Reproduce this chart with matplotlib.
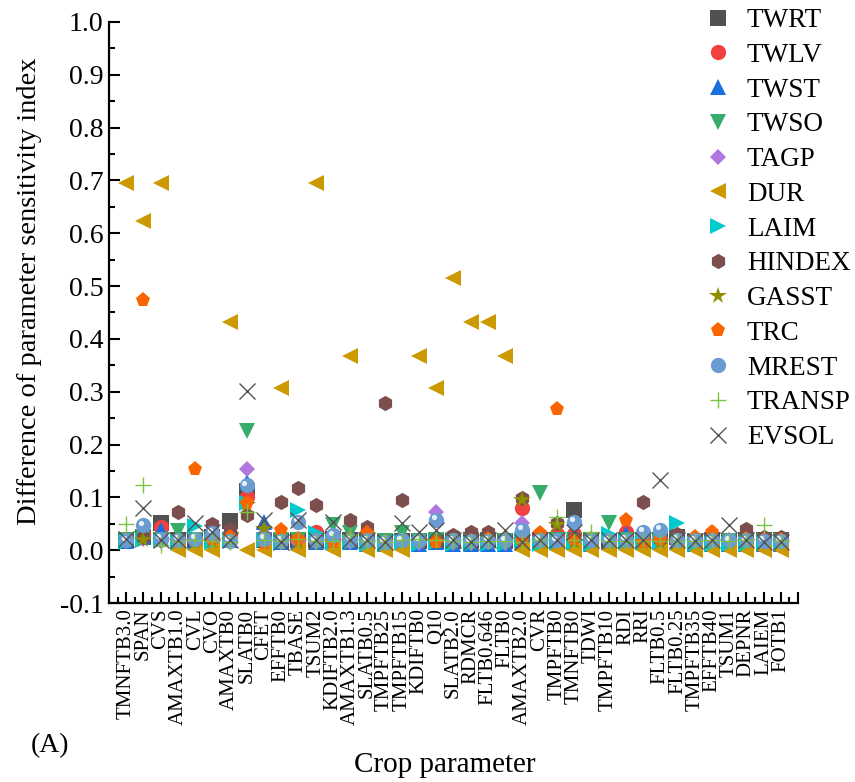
import matplotlib
matplotlib.use("Agg")
import matplotlib.pyplot as plt
from matplotlib.ticker import MultipleLocator
from matplotlib.transforms import offset_copy

plt.rcParams['font.family'] = ['Liberation Serif', 'DejaVu Serif']

params = ["TMNFTB3.0", "SPAN", "CVS", "AMAXTB1.0", "CVL", "CVO", "AMAXTB0", "SLATB0",
          "CFET", "EFFTB0", "TBASE", "TSUM2", "KDIFTB2.0", "AMAXTB1.3", "SLATB0.5",
          "TMPFTB25", "TMPFTB15", "KDIFTB0", "Q10", "SLATB2.0", "RDMCR", "FLTB0.646",
          "FLTB0", "AMAXTB2.0", "CVR", "TMPFTB0", "TMNFTB0", "TDWI", "TMPFTB10", "RDI",
          "RRI", "FLTB0.5", "FLTB0.25", "TMPFTB35", "EFFTB40", "TSUM1", "DEPNR", "LAIEM", "FOTB1"]

twrt = [0.020, 0.025, 0.052, 0.020, 0.020, 0.025, 0.056, 0.112, 0.020, 0.018, 0.020, 0.020, 0.022,
        0.020, 0.018, 0.015, 0.018, 0.017, 0.018, 0.017, 0.020, 0.020, 0.018, 0.020, 0.020, 0.020,
        0.076, 0.020, 0.018, 0.020, 0.020, 0.020, 0.025, 0.018, 0.020, 0.018, 0.020, 0.020, 0.020]
twlv = [0.022, 0.030, 0.044, 0.020, 0.020, 0.025, 0.030, 0.100, 0.020, 0.022, 0.020, 0.035, 0.022,
        0.020, 0.020, 0.015, 0.020, 0.018, 0.020, 0.017, 0.018, 0.020, 0.018, 0.080, 0.025, 0.030,
        0.030, 0.020, 0.020, 0.035, 0.020, 0.022, 0.020, 0.018, 0.020, 0.018, 0.020, 0.018, 0.020]
twst = [0.018, 0.025, 0.038, 0.015, 0.015, 0.020, 0.020, 0.130, 0.054, 0.015, 0.015, 0.015, 0.015,
        0.015, 0.012, 0.012, 0.015, 0.012, 0.015, 0.012, 0.012, 0.012, 0.012, 0.015, 0.015, 0.015,
        0.015, 0.012, 0.015, 0.030, 0.015, 0.015, 0.015, 0.012, 0.012, 0.012, 0.012, 0.012, 0.012]
twso = [0.020, 0.025, 0.020, 0.037, 0.020, 0.020, 0.020, 0.226, 0.020, 0.020, 0.020, 0.020, 0.047,
        0.032, 0.020, 0.018, 0.032, 0.018, 0.020, 0.018, 0.018, 0.020, 0.018, 0.020, 0.108, 0.020,
        0.020, 0.018, 0.051, 0.020, 0.020, 0.020, 0.020, 0.018, 0.018, 0.018, 0.018, 0.018, 0.018]
tagp = [0.018, 0.022, 0.018, 0.015, 0.015, 0.018, 0.015, 0.153, 0.030, 0.015, 0.015, 0.015, 0.015,
        0.015, 0.015, 0.013, 0.015, 0.013, 0.072, 0.013, 0.013, 0.015, 0.013, 0.052, 0.015, 0.015,
        0.015, 0.013, 0.015, 0.015, 0.015, 0.015, 0.015, 0.013, 0.013, 0.013, 0.013, 0.013, 0.013]
dur = [0.695, 0.623, 0.695, 0.0, 0.0, 0.0, 0.432, 0.0, 0.0, 0.307, 0.0, 0.695, 0.0,
       0.367, 0.0, 0.0, 0.0, 0.367, 0.307, 0.515, 0.432, 0.432, 0.367, 0.0, 0.0, 0.0,
       0.0, 0.0, 0.0, 0.0, 0.0, 0.0, 0.0, 0.0, 0.0, 0.0, 0.0, 0.0, 0.0]
laim = [0.015, 0.020, 0.020, 0.015, 0.045, 0.015, 0.020, 0.090, 0.020, 0.015, 0.076, 0.032, 0.015,
        0.015, 0.012, 0.012, 0.015, 0.012, 0.015, 0.012, 0.012, 0.012, 0.012, 0.020, 0.012, 0.015,
        0.015, 0.012, 0.030, 0.015, 0.015, 0.015, 0.051, 0.012, 0.012, 0.012, 0.012, 0.015, 0.015]
hindex = [0.020, 0.025, 0.020, 0.073, 0.020, 0.050, 0.040, 0.066, 0.025, 0.092, 0.117, 0.085, 0.025,
          0.057, 0.044, 0.279, 0.095, 0.020, 0.018, 0.028, 0.035, 0.035, 0.020, 0.098, 0.025, 0.051,
          0.025, 0.020, 0.020, 0.020, 0.092, 0.022, 0.030, 0.020, 0.025, 0.020, 0.040, 0.025, 0.025]
gasst = [0.018, 0.020, 0.018, 0.015, 0.015, 0.018, 0.018, 0.085, 0.041, 0.015, 0.015, 0.015, 0.015,
         0.015, 0.015, 0.015, 0.015, 0.015, 0.015, 0.015, 0.015, 0.015, 0.015, 0.095, 0.015, 0.047,
         0.015, 0.015, 0.015, 0.015, 0.015, 0.015, 0.015, 0.015, 0.015, 0.015, 0.015, 0.015, 0.015]
trc = [0.020, 0.473, 0.020, 0.015, 0.153, 0.022, 0.025, 0.089, 0.013, 0.038, 0.022, 0.020, 0.016,
       0.022, 0.032, 0.016, 0.018, 0.018, 0.016, 0.018, 0.018, 0.022, 0.022, 0.020, 0.032, 0.267,
       0.022, 0.022, 0.018, 0.057, 0.015, 0.022, 0.018, 0.025, 0.035, 0.020, 0.022, 0.020, 0.020]
mrest = [0.019, 0.047, 0.022, 0.020, 0.022, 0.033, 0.018, 0.123, 0.022, 0.018, 0.054, 0.019, 0.028,
         0.020, 0.019, 0.016, 0.019, 0.019, 0.058, 0.019, 0.017, 0.018, 0.019, 0.038, 0.020, 0.019,
         0.054, 0.019, 0.019, 0.020, 0.035, 0.038, 0.020, 0.019, 0.019, 0.019, 0.019, 0.018, 0.018]
transp = [0.050, 0.124, 0.010, 0.018, 0.020, 0.018, 0.016, 0.073, 0.020, 0.018, 0.022, 0.018, 0.018,
          0.028, 0.018, 0.016, 0.020, 0.022, 0.020, 0.018, 0.016, 0.018, 0.018, 0.016, 0.020, 0.063,
          0.020, 0.035, 0.018, 0.018, 0.018, 0.018, 0.018, 0.018, 0.020, 0.018, 0.020, 0.047, 0.018]
evsol = [0.022, 0.079, 0.019, 0.019, 0.052, 0.035, 0.020, 0.302, 0.057, 0.016, 0.057, 0.019, 0.054,
         0.020, 0.019, 0.016, 0.052, 0.035, 0.038, 0.020, 0.016, 0.020, 0.038, 0.016, 0.020, 0.020,
         0.035, 0.020, 0.020, 0.020, 0.020, 0.132, 0.020, 0.018, 0.020, 0.047, 0.020, 0.016, 0.016]

series = [
    ("TWRT", twrt, "s", "#515151"),
    ("TWLV", twlv, "o", "#F14040"),
    ("TWST", twst, "^", "#1A6FDF"),
    ("TWSO", twso, "v", "#37AD6B"),
    ("TAGP", tagp, "D", "#B177DE"),
    ("DUR", dur, "<", "#CC9900"),
    ("LAIM", laim, ">", "#00CBCC"),
    ("HINDEX", hindex, "h", "#7D4E4E"),
    ("GASST", gasst, "*", "#8E8E00"),
    ("TRC", trc, "p", "#FB6501"),
    ("MREST", mrest, "o", "#6A9BD1"),
    ("TRANSP", transp, "+", "#7DC242"),
    ("EVSOL", evsol, "x", "#555555"),
]

x = list(range(1, len(params) + 1))

fig = plt.figure(figsize=(8.55, 7.82), dpi=100)
ax = fig.add_axes([0.1275, 0.2289, 0.8058, 0.743])

hl = offset_copy(ax.transData, fig=fig, x=-1.7, y=1.9, units='points')
for name, vals, mk, col in series:
    ms = 11
    if mk == "D":
        ms = 8.5
    if mk == "*":
        ms = 13
    if mk in ("+", "x"):
        ax.plot(x, vals, linestyle="none", marker=mk, ms=11.5, mew=1.0,
                color=col, label=name)
    else:
        ax.plot(x, vals, linestyle="none", marker=mk, ms=ms, mew=0,
                color=col, label=name)
    if name == "MREST":
        ax.plot(x, vals, linestyle="none", marker="o", ms=3.8, mew=0,
                color="#E3EEF9", transform=hl)

ax.set_xlim(0, 40)
ax.set_ylim(-0.1, 1.0)
ax.set_xticks(range(0, 41))
ax.set_xticklabels([""] + params + [""], rotation=90, fontsize=15)
ax.xaxis.set_minor_locator(MultipleLocator(0.5))
ax.yaxis.set_minor_locator(MultipleLocator(0.05))
ax.set_yticks([i / 10 for i in range(-1, 11)])
ax.set_yticklabels(["%.1f" % (i / 10) for i in range(-1, 11)], fontsize=20)

for s in ("top", "right"):
    ax.spines[s].set_visible(False)
for s in ("left", "bottom"):
    ax.spines[s].set_linewidth(1.6)
ax.tick_params(which="major", direction="in", length=8, width=1.5, pad=4)
ax.tick_params(which="minor", direction="in", length=4.5, width=1.5)

fig.text(0.035, 0.627, "Difference of parameter sensitivity index", rotation=90,
         ha="center", va="center", fontsize=20.5)
fig.text(0.52, 0.022, "Crop parameter", ha="center", va="center", fontsize=21)
fig.text(0.058, 0.047, "(A)", ha="center", va="center", fontsize=20)

fig.legend(loc="upper left", bbox_to_anchor=(0.815, 1.0), frameon=False,
           fontsize=19.5, handlelength=1.0, handletextpad=0.55, labelspacing=0.36,
           borderaxespad=0.2, borderpad=0.1)

fig.savefig("out.png", dpi=100)
